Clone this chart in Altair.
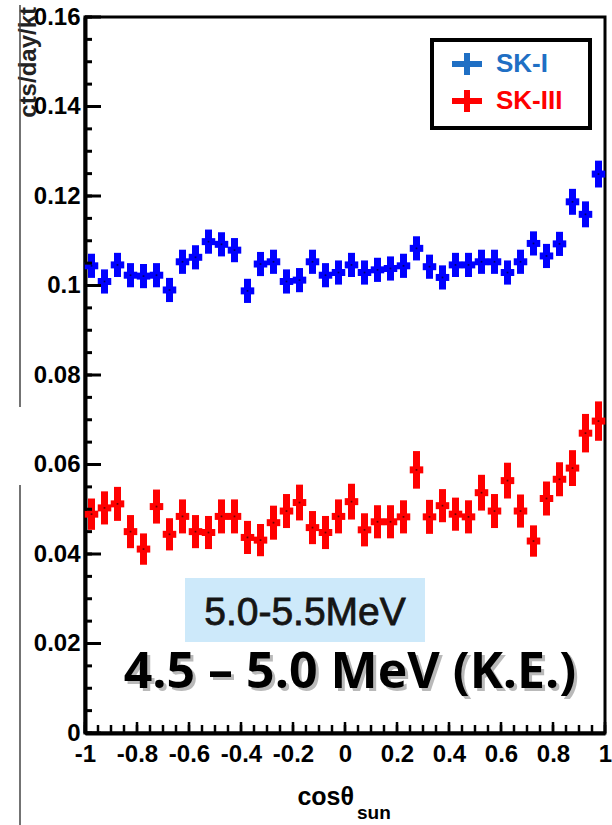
import altair as alt
import pandas as pd

# ---------------- data ----------------
cos_bins = [-0.975, -0.925, -0.875, -0.825, -0.775, -0.725, -0.675, -0.625, -0.575, -0.525,
            -0.475, -0.425, -0.375, -0.325, -0.275, -0.225, -0.175, -0.125, -0.075, -0.025,
            0.025, 0.075, 0.125, 0.175, 0.225, 0.275, 0.325, 0.375, 0.425, 0.475,
            0.525, 0.575, 0.625, 0.675, 0.725, 0.775, 0.825, 0.875, 0.925, 0.975]
half_bin = 0.026

sk1_rate = [0.1044, 0.1009, 0.1046, 0.1023, 0.1021, 0.1023, 0.0990, 0.1053, 0.1063, 0.1098,
            0.1092, 0.1079, 0.0988, 0.1048, 0.1053, 0.1009, 0.1012, 0.1053, 0.1023, 0.1029,
            0.1046, 0.1029, 0.1035, 0.1038, 0.1044, 0.1083, 0.1042, 0.1018, 0.1046, 0.1046,
            0.1053, 0.1053, 0.1029, 0.1053, 0.1094, 0.1066, 0.1093, 0.1187, 0.1159, 0.1249]
sk1_err = [0.0027] * 37 + [0.0029, 0.0029, 0.0030]

sk3_rate = [0.0489, 0.0503, 0.0512, 0.0450, 0.0411, 0.0506, 0.0444, 0.0484, 0.0450, 0.0448,
            0.0484, 0.0484, 0.0437, 0.0431, 0.0470, 0.0496, 0.0515, 0.0459, 0.0448, 0.0484,
            0.0517, 0.0454, 0.0472, 0.0472, 0.0483, 0.0588, 0.0483, 0.0508, 0.0489, 0.0483,
            0.0537, 0.0496, 0.0564, 0.0496, 0.0429, 0.0524, 0.0567, 0.0592, 0.0670, 0.0697]
sk3_err = [0.0035, 0.0037, 0.0038, 0.0037, 0.0035, 0.0038, 0.0036, 0.0038, 0.0037, 0.0037,
           0.0038, 0.0038, 0.0037, 0.0036, 0.0038, 0.0038, 0.0040, 0.0037, 0.0037, 0.0038,
           0.0040, 0.0037, 0.0037, 0.0037, 0.0037, 0.0042, 0.0038, 0.0037, 0.0037, 0.0037,
           0.0040, 0.0038, 0.0040, 0.0037, 0.0035, 0.0038, 0.0038, 0.0040, 0.0043, 0.0044]

series_names = ["SK-I", "SK-III"]
series_colors = ["#0000ff", "#ff0000"]
legend_colors = ["#1f6fc4", "#ff0000"]

x_major = [-1, -0.8, -0.6, -0.4, -0.2, 0, 0.2, 0.4, 0.6, 0.8, 1]
x_minor = [-1 + 0.05 * k for k in range(41)]
y_major = [0, 0.02, 0.04, 0.06, 0.08, 0.1, 0.12, 0.14, 0.16]
y_minor = [0.005 * k for k in range(33)]

# ---------------- frames ----------------
rows = []
for name, rates, errs in [("SK-I", sk1_rate, sk1_err), ("SK-III", sk3_rate, sk3_err)]:
    for c, r, e in zip(cos_bins, rates, errs):
        rows.append({"series": name, "x": c, "y": r, "lo": r - e, "hi": r + e,
                     "xl": c - half_bin, "xh": c + half_bin})
df = pd.DataFrame(rows)

W, H = 520, 716
XS = alt.Scale(domain=[-1, 1], nice=False, zero=False)
YS = alt.Scale(domain=[0, 0.16], nice=False, zero=False)
color = alt.Color("series:N", scale=alt.Scale(domain=series_names, range=series_colors), legend=None)
lab_font = "Liberation Sans"
lab_expr = "datum.value == 0 ? '0' : replace(format(datum.value, '.2~f'), '\u2212', '-')"

xaxis = alt.Axis(values=x_major, labelExpr=lab_expr, title=None,
                 grid=False, ticks=False, domain=True, domainColor="black", domainWidth=4,
                 labelFont=lab_font, labelFontWeight="bold", labelFontSize=24, labelColor="black",
                 labelPadding=9, labelFlush=False, labelBound=False, labelOverlap=False)
yaxis = alt.Axis(values=y_major, labelExpr=lab_expr, title=None,
                 grid=False, ticks=False, domain=True, domainColor="black", domainWidth=4,
                 labelFont=lab_font, labelFontWeight="bold", labelFontSize=24, labelColor="black",
                 labelPadding=5, labelFlush=False, labelBound=False, labelOverlap=False)

base = alt.Chart(df)

vbars = base.mark_rule(strokeWidth=7).encode(
    x=alt.X("x:Q", scale=XS, axis=xaxis),
    y=alt.Y("lo:Q", scale=YS, axis=yaxis),
    y2="hi:Q",
    color=color,
)
hbars = base.mark_rule(strokeWidth=7).encode(
    x=alt.X("xl:Q", scale=XS), x2="xh:Q", y=alt.Y("y:Q", scale=YS), color=color)
dots = base.mark_square(size=3, color="black", opacity=0.6).encode(
    x=alt.X("x:Q", scale=XS), y=alt.Y("y:Q", scale=YS))

# ticks pointing inward
xt_major = alt.Chart(pd.DataFrame({"v": x_major})).mark_rule(color="black", strokeWidth=2.5).encode(
    x=alt.X("v:Q", scale=XS), y=alt.value(H), y2=alt.value(H - 11))
xt_minor = alt.Chart(pd.DataFrame({"v": x_minor})).mark_rule(color="black", strokeWidth=2.5).encode(
    x=alt.X("v:Q", scale=XS), y=alt.value(H), y2=alt.value(H - 8))
yt_major = alt.Chart(pd.DataFrame({"v": y_major})).mark_rule(color="black", strokeWidth=3).encode(
    y=alt.Y("v:Q", scale=YS), x=alt.value(0), x2=alt.value(16))
yt_minor = alt.Chart(pd.DataFrame({"v": y_minor})).mark_rule(color="black", strokeWidth=3).encode(
    y=alt.Y("v:Q", scale=YS), x=alt.value(0), x2=alt.value(7))

# legend box
leg_box = alt.Chart(pd.DataFrame({"a": [0]})).mark_rect(fill="white", stroke="black", strokeWidth=4).encode(
    x=alt.value(347), x2=alt.value(505), y=alt.value(23), y2=alt.value(111))
leg_df = pd.DataFrame({"name": series_names, "col": legend_colors, "yy": [47, 84]})
leg_h = alt.Chart(leg_df).mark_rule(strokeWidth=6).encode(
    x=alt.value(367), x2=alt.value(397), y=alt.Y("yy:Q", scale=None), color=alt.Color("col:N", scale=None))
leg_v = alt.Chart(leg_df).transform_calculate(y1="datum.yy - 11", y2="datum.yy + 11").mark_rule(strokeWidth=6).encode(
    x=alt.value(382), y=alt.Y("y1:Q", scale=None), y2="y2:Q", color=alt.Color("col:N", scale=None))
leg_t = alt.Chart(leg_df).mark_text(align="left", baseline="middle", font="Liberation Sans",
                                    fontWeight="bold", fontSize=26).encode(
    x=alt.value(411), y=alt.Y("yy:Q", scale=None), text="name:N", color=alt.Color("col:N", scale=None))

# annotations
blue_box = alt.Chart(pd.DataFrame({"a": [0]})).mark_rect(fill="#cde9fa").encode(
    x=alt.value(100), x2=alt.value(340), y=alt.value(561), y2=alt.value(625))
t1 = alt.Chart(pd.DataFrame({"t": ["5.0-5.5MeV"]})).mark_text(
    font="Liberation Sans", fontSize=39, color="#151515", align="center", baseline="alphabetic",
    stroke="#151515", strokeWidth=0.8).encode(
    x=alt.value(220), y=alt.value(608), text="t:N")
t2_shadow = alt.Chart(pd.DataFrame({"t": ["4.5 – 5.0 MeV (K.E.)"]})).mark_text(
    font="Open Sans", fontWeight="bold", fontSize=50, color="#8c8c8c", align="center",
    baseline="alphabetic", opacity=0.6).encode(x=alt.value(268), y=alt.value(674), text="t:N")
t2 = alt.Chart(pd.DataFrame({"t": ["4.5 – 5.0 MeV (K.E.)"]})).mark_text(
    font="Open Sans", fontWeight="bold", fontSize=50, color="black", align="center",
    baseline="alphabetic").encode(x=alt.value(265), y=alt.value(671), text="t:N")

# axis titles
ytitle = alt.Chart(pd.DataFrame({"t": ["cts/day/kt"]})).mark_text(
    font="Liberation Sans", fontWeight="bold", fontSize=24, color="#222", angle=270,
    align="right", baseline="middle").encode(x=alt.value(-56), y=alt.value(-10), text="t:N")
xtitle = alt.Chart(pd.DataFrame({"t": ["cosθ"]})).mark_text(
    font="Liberation Sans", fontWeight="bold", fontSize=25, color="black", align="right",
    baseline="alphabetic").encode(x=alt.value(269), y=alt.value(788), text="t:N")
xsub = alt.Chart(pd.DataFrame({"t": ["sun"]})).mark_text(
    font="Liberation Sans", fontWeight="bold", fontSize=19, color="black", align="left",
    baseline="alphabetic").encode(x=alt.value(272), y=alt.value(802), text="t:N")

# slide artifacts on the left
art1 = alt.Chart(pd.DataFrame({"a": [0]})).mark_rule(color="#444", strokeWidth=1.5).encode(
    x=alt.value(-65), y=alt.value(-12), y2=alt.value(390))
art2 = alt.Chart(pd.DataFrame({"a": [0]})).mark_rule(color="#444", strokeWidth=1.5).encode(
    x=alt.value(-65), y=alt.value(468), y2=alt.value(808))

chart = alt.layer(
    blue_box, t1, t2_shadow, t2,
    vbars, hbars, dots,
    xt_minor, xt_major, yt_minor, yt_major,
    leg_box, leg_h, leg_v, leg_t,
    ytitle, xtitle, xsub, art1, art2,
).properties(
    width=W, height=H,
    autosize=alt.AutoSizeParams(type="none"),
    padding={"left": 85, "top": 17, "right": 7, "bottom": 92},
    background="white",
).configure_view(stroke="black", strokeWidth=3)

chart.save("out.html", embed_options={"renderer": "svg", "actions": False})
